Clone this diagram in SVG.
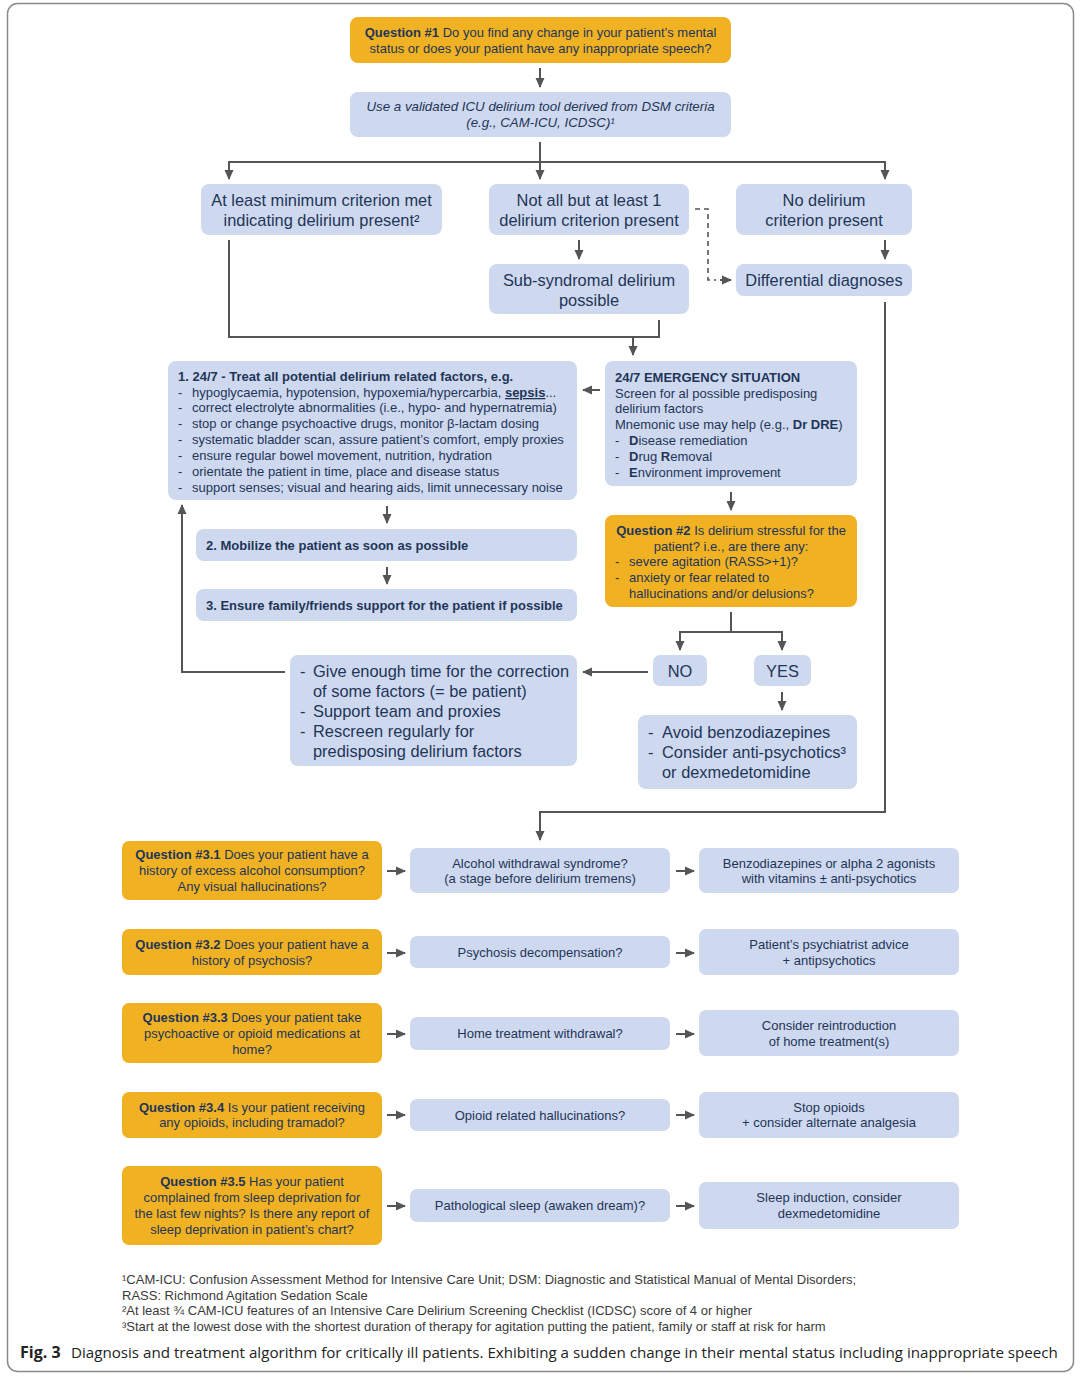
<svg xmlns="http://www.w3.org/2000/svg" width="1080" height="1380" viewBox="0 0 1080 1380">
<style>
.y{fill:#F0B222}
.b{fill:#CED9EF}
text{font-family:"Liberation Sans",Arial,sans-serif;fill:#1F3558}
.s{font-size:13px}
.m{font-size:13px}
.l{font-size:16.4px}
.c{text-anchor:middle}
.bd{font-weight:bold}
.fn{font-size:13px;fill:#3a3a3a}
.cn{fill:none;stroke:#555;stroke-width:2}
.ar{marker-end:url(#ah)}
</style>
<defs>
<marker id="ah" viewBox="0 0 10 10" refX="9" refY="5" markerWidth="10" markerHeight="10" markerUnits="userSpaceOnUse" orient="auto">
<path d="M0,0.5 L10,5 L0,9.5 Z" fill="#555"/>
</marker>
</defs>
<rect x="0" y="0" width="1080" height="1380" fill="#fff"/>
<rect x="7.5" y="3.5" width="1066" height="1368" rx="10" fill="none" stroke="#8a8a8a" stroke-width="1.5"/>

<g id="connectors">
<path class="cn ar" d="M540,68 V87"/>
<path class="cn ar" d="M540,142 V179"/>
<path class="cn ar" d="M540,162 H229 V179"/>
<path class="cn ar" d="M540,162 H885 V179"/>
<path class="cn ar" d="M579,240 V259"/>
<path class="cn ar" d="M885,240 V259"/>
<path d="M695,209 H708 V280 H716" fill="none" stroke="#555" stroke-width="1.6" stroke-dasharray="5,4"/>
<path class="cn ar" d="M720,280 H731"/>
<path class="cn" d="M229,240 V337 H659 V320"/>
<path class="cn ar" d="M633,337 V355"/>
<path class="cn ar" d="M600,390 H583"/>
<path class="cn ar" d="M731,492 V510"/>
<path class="cn ar" d="M731,612 V632 H680 V650"/>
<path class="cn ar" d="M731,632 H782 V650"/>
<path class="cn ar" d="M782,692 V710"/>
<path class="cn ar" d="M648,672 H583"/>
<path class="cn ar" d="M285,672 H182 V505"/>
<path class="cn ar" d="M387,506 V523"/>
<path class="cn ar" d="M387,567 V584"/>
<path class="cn ar" d="M885,302 V812 H540 V840"/>
<path class="cn ar" d="M387,871 H405"/>
<path class="cn ar" d="M676,871 H694"/>
<path class="cn ar" d="M387,953 H405"/>
<path class="cn ar" d="M676,953 H694"/>
<path class="cn ar" d="M387,1034 H405"/>
<path class="cn ar" d="M676,1034 H694"/>
<path class="cn ar" d="M387,1115 H405"/>
<path class="cn ar" d="M676,1115 H694"/>
<path class="cn ar" d="M387,1206 H405"/>
<path class="cn ar" d="M676,1206 H694"/>
</g>

<g id="q1">
<rect class="y" x="350" y="17" width="381" height="46" rx="8"/>
<text class="s c" x="540.5" y="37"><tspan class="bd">Question #1</tspan> Do you find any change in your patient’s mental</text>
<text class="s c" x="540.5" y="53">status or does your patient have any inappropriate speech?</text>
</g>
<g id="tool">
<rect class="b" x="350" y="92" width="381" height="45" rx="8"/>
<text class="c" x="540.5" y="111" font-size="13.3" font-style="italic">Use a validated ICU delirium tool derived from DSM criteria</text>
<text class="c" x="540.5" y="127" font-size="13.3" font-style="italic">(e.g., CAM-ICU, ICDSC)¹</text>
</g>
<g id="atleast">
<rect class="b" x="201" y="184" width="241" height="51" rx="8"/>
<text class="l c" x="321.5" y="206">At least minimum criterion met</text>
<text class="l c" x="321.5" y="226">indicating delirium present²</text>
</g>
<g id="notall">
<rect class="b" x="489" y="184" width="200" height="51" rx="8"/>
<text class="l c" x="589" y="206">Not all but at least 1</text>
<text class="l c" x="589" y="226">delirium criterion present</text>
</g>
<g id="nodelirium">
<rect class="b" x="736" y="184" width="176" height="51" rx="8"/>
<text class="l c" x="824" y="206">No delirium</text>
<text class="l c" x="824" y="226">criterion present</text>
</g>
<g id="subsyndromal">
<rect class="b" x="489" y="264" width="200" height="50" rx="8"/>
<text class="l c" x="589" y="286">Sub-syndromal delirium</text>
<text class="l c" x="589" y="306">possible</text>
</g>
<g id="differential">
<rect class="b" x="736" y="264" width="176" height="32" rx="8"/>
<text class="l c" x="824" y="286">Differential diagnoses</text>
</g>

<g id="treat">
<rect class="b" x="168" y="361" width="409" height="139" rx="8"/>
<text class="m bd" x="178" y="381">1. 24/7 - Treat all potential delirium related factors, e.g.</text>
<g class="s">
<text x="178" y="397">-</text><text x="192" y="397">hypoglycaemia, hypotension, hypoxemia/hypercarbia, <tspan class="bd" text-decoration="underline">sepsis</tspan>...</text>
<text x="178" y="412">-</text><text x="192" y="412">correct electrolyte abnormalities (i.e., hypo- and hypernatremia)</text>
<text x="178" y="428">-</text><text x="192" y="428">stop or change psychoactive drugs, monitor β-lactam dosing</text>
<text x="178" y="444">-</text><text x="192" y="444">systematic bladder scan, assure patient’s comfort, emply proxies</text>
<text x="178" y="460">-</text><text x="192" y="460">ensure regular bowel movement, nutrition, hydration</text>
<text x="178" y="476">-</text><text x="192" y="476">orientate the patient in time, place and disease status</text>
<text x="178" y="492">-</text><text x="192" y="492">support senses; visual and hearing aids, limit unnecessary noise</text>
</g>
</g>
<g id="emergency">
<rect class="b" x="605" y="361" width="252" height="125" rx="8"/>
<text class="m bd" x="615" y="382">24/7 EMERGENCY SITUATION</text>
<text class="m" x="615" y="398">Screen for al possible predisposing</text>
<text class="m" x="615" y="413">delirium factors</text>
<text class="m" x="615" y="429">Mnemonic use may help (e.g., <tspan class="bd">Dr DRE</tspan>)</text>
<text class="m" x="615" y="445">-</text><text class="m" x="629" y="445"><tspan class="bd">D</tspan>isease remediation</text>
<text class="m" x="615" y="461">-</text><text class="m" x="629" y="461"><tspan class="bd">D</tspan>rug <tspan class="bd">R</tspan>emoval</text>
<text class="m" x="615" y="477">-</text><text class="m" x="629" y="477"><tspan class="bd">E</tspan>nvironment improvement</text>
</g>
<g id="q2">
<rect class="y" x="605" y="515" width="252" height="92" rx="8"/>
<text class="m c" x="731" y="535"><tspan class="bd">Question #2</tspan> Is delirium stressful for the</text>
<text class="m c" x="731" y="551">patient? i.e., are there any:</text>
<text class="m" x="615" y="566">-</text><text class="m" x="629" y="566">severe agitation (RASS&gt;+1)?</text>
<text class="m" x="615" y="582">-</text><text class="m" x="629" y="582">anxiety or fear related to</text>
<text class="m" x="629" y="598">hallucinations and/or delusions?</text>
</g>
<g id="mobilize">
<rect class="b" x="196" y="529" width="381" height="32" rx="8"/>
<text class="s bd" x="206" y="550">2. Mobilize the patient as soon as possible</text>
</g>
<g id="family">
<rect class="b" x="196" y="589" width="381" height="32" rx="8"/>
<text class="s bd" x="206" y="610">3. Ensure family/friends support for the patient if possible</text>
</g>
<g id="no">
<rect class="b" x="653" y="655" width="54" height="31" rx="7"/>
<text class="l c" x="680" y="677">NO</text>
</g>
<g id="yes">
<rect class="b" x="754" y="655" width="57" height="31" rx="7"/>
<text class="l c" x="782.5" y="677">YES</text>
</g>
<g id="givetime">
<rect class="b" x="290" y="655" width="287" height="111" rx="8"/>
<text class="l" x="300" y="677">-</text><text class="l" x="313" y="677">Give enough time for the correction</text>
<text class="l" x="313" y="697">of some factors (= be patient)</text>
<text class="l" x="300" y="717">-</text><text class="l" x="313" y="717">Support team and proxies</text>
<text class="l" x="300" y="737">-</text><text class="l" x="313" y="737">Rescreen regularly for</text>
<text class="l" x="313" y="757">predisposing delirium factors</text>
</g>
<g id="avoid">
<rect class="b" x="638" y="715" width="219" height="74" rx="8"/>
<text class="l" x="648" y="738">-</text><text class="l" x="662" y="738">Avoid benzodiazepines</text>
<text class="l" x="648" y="758">-</text><text class="l" x="662" y="758">Consider anti-psychotics³</text>
<text class="l" x="662" y="778">or dexmedetomidine</text>
</g>

<g id="q31">
<rect class="y" x="122" y="841" width="260" height="59" rx="7"/>
<text class="s c" x="252" y="859"><tspan class="bd">Question #3.1</tspan> Does your patient have a</text>
<text class="s c" x="252" y="875">history of excess alcohol consumption?</text>
<text class="s c" x="252" y="891">Any visual hallucinations?</text>
</g>
<g id="alcohol">
<rect class="b" x="410" y="848" width="260" height="45" rx="7"/>
<text class="s c" x="540" y="868">Alcohol withdrawal syndrome?</text>
<text class="s c" x="540" y="883">(a stage before delirium tremens)</text>
</g>
<g id="benzo">
<rect class="b" x="699" y="848" width="260" height="45" rx="7"/>
<text class="s c" x="829" y="868">Benzodiazepines or alpha 2 agonists</text>
<text class="s c" x="829" y="883">with vitamins ± anti-psychotics</text>
</g>
<g id="q32">
<rect class="y" x="122" y="929" width="260" height="46" rx="7"/>
<text class="s c" x="252" y="949"><tspan class="bd">Question #3.2</tspan> Does your patient have a</text>
<text class="s c" x="252" y="965">history of psychosis?</text>
</g>
<g id="psychosis">
<rect class="b" x="410" y="936" width="260" height="32" rx="7"/>
<text class="s c" x="540" y="957">Psychosis decompensation?</text>
</g>
<g id="psychiatrist">
<rect class="b" x="699" y="929" width="260" height="46" rx="7"/>
<text class="s c" x="829" y="949">Patient’s psychiatrist advice</text>
<text class="s c" x="829" y="965">+ antipsychotics</text>
</g>
<g id="q33">
<rect class="y" x="122" y="1003" width="260" height="60" rx="7"/>
<text class="s c" x="252" y="1022"><tspan class="bd">Question #3.3</tspan> Does your patient take</text>
<text class="s c" x="252" y="1038">psychoactive or opioid medications at</text>
<text class="s c" x="252" y="1054">home?</text>
</g>
<g id="home">
<rect class="b" x="410" y="1017" width="260" height="33" rx="7"/>
<text class="s c" x="540" y="1038">Home treatment withdrawal?</text>
</g>
<g id="reintro">
<rect class="b" x="699" y="1010" width="260" height="46" rx="7"/>
<text class="s c" x="829" y="1030">Consider reintroduction</text>
<text class="s c" x="829" y="1046">of home treatment(s)</text>
</g>
<g id="q34">
<rect class="y" x="122" y="1092" width="260" height="46" rx="7"/>
<text class="s c" x="252" y="1112"><tspan class="bd">Question #3.4</tspan> Is your patient receiving</text>
<text class="s c" x="252" y="1127">any opioids, including tramadol?</text>
</g>
<g id="opioid">
<rect class="b" x="410" y="1099" width="260" height="32" rx="7"/>
<text class="s c" x="540" y="1120">Opioid related hallucinations?</text>
</g>
<g id="stop">
<rect class="b" x="699" y="1092" width="260" height="46" rx="7"/>
<text class="s c" x="829" y="1112">Stop opioids</text>
<text class="s c" x="829" y="1127">+ consider alternate analgesia</text>
</g>
<g id="q35">
<rect class="y" x="122" y="1166" width="260" height="79" rx="7"/>
<text class="s c" x="252" y="1186"><tspan class="bd">Question #3.5</tspan> Has your patient</text>
<text class="s c" x="252" y="1202">complained from sleep deprivation for</text>
<text class="s c" x="252" y="1218">the last few nights? Is there any report of</text>
<text class="s c" x="252" y="1234">sleep deprivation in patient’s chart?</text>
</g>
<g id="sleep">
<rect class="b" x="410" y="1189" width="260" height="33" rx="7"/>
<text class="s c" x="540" y="1210">Pathological sleep (awaken dream)?</text>
</g>
<g id="induction">
<rect class="b" x="699" y="1182" width="260" height="47" rx="7"/>
<text class="s c" x="829" y="1202">Sleep induction, consider</text>
<text class="s c" x="829" y="1218">dexmedetomidine</text>
</g>

<g id="footnotes">
<text class="fn" x="122" y="1284">¹CAM-ICU: Confusion Assessment Method for Intensive Care Unit; DSM: Diagnostic and Statistical Manual of Mental Disorders;</text>
<text class="fn" x="122" y="1300">RASS: Richmond Agitation Sedation Scale</text>
<text class="fn" x="122" y="1315">²At least ¾ CAM-ICU features of an Intensive Care Delirium Screening Checklist (ICDSC) score of 4 or higher</text>
<text class="fn" x="122" y="1331">³Start at the lowest dose with the shortest duration of therapy for agitation putting the patient, family or staff at risk for harm</text>
</g>
<g id="caption">
<text x="20" y="1358" style="font-family:'Open Sans','Noto Sans',sans-serif;font-size:16px;font-weight:bold;fill:#222">Fig. 3</text>
<text x="71" y="1358" style="font-family:'Open Sans','Noto Sans',sans-serif;font-size:15.15px;fill:#222">Diagnosis and treatment algorithm for critically ill patients. Exhibiting a sudden change in their mental status including inappropriate speech</text>
</g>
</svg>
